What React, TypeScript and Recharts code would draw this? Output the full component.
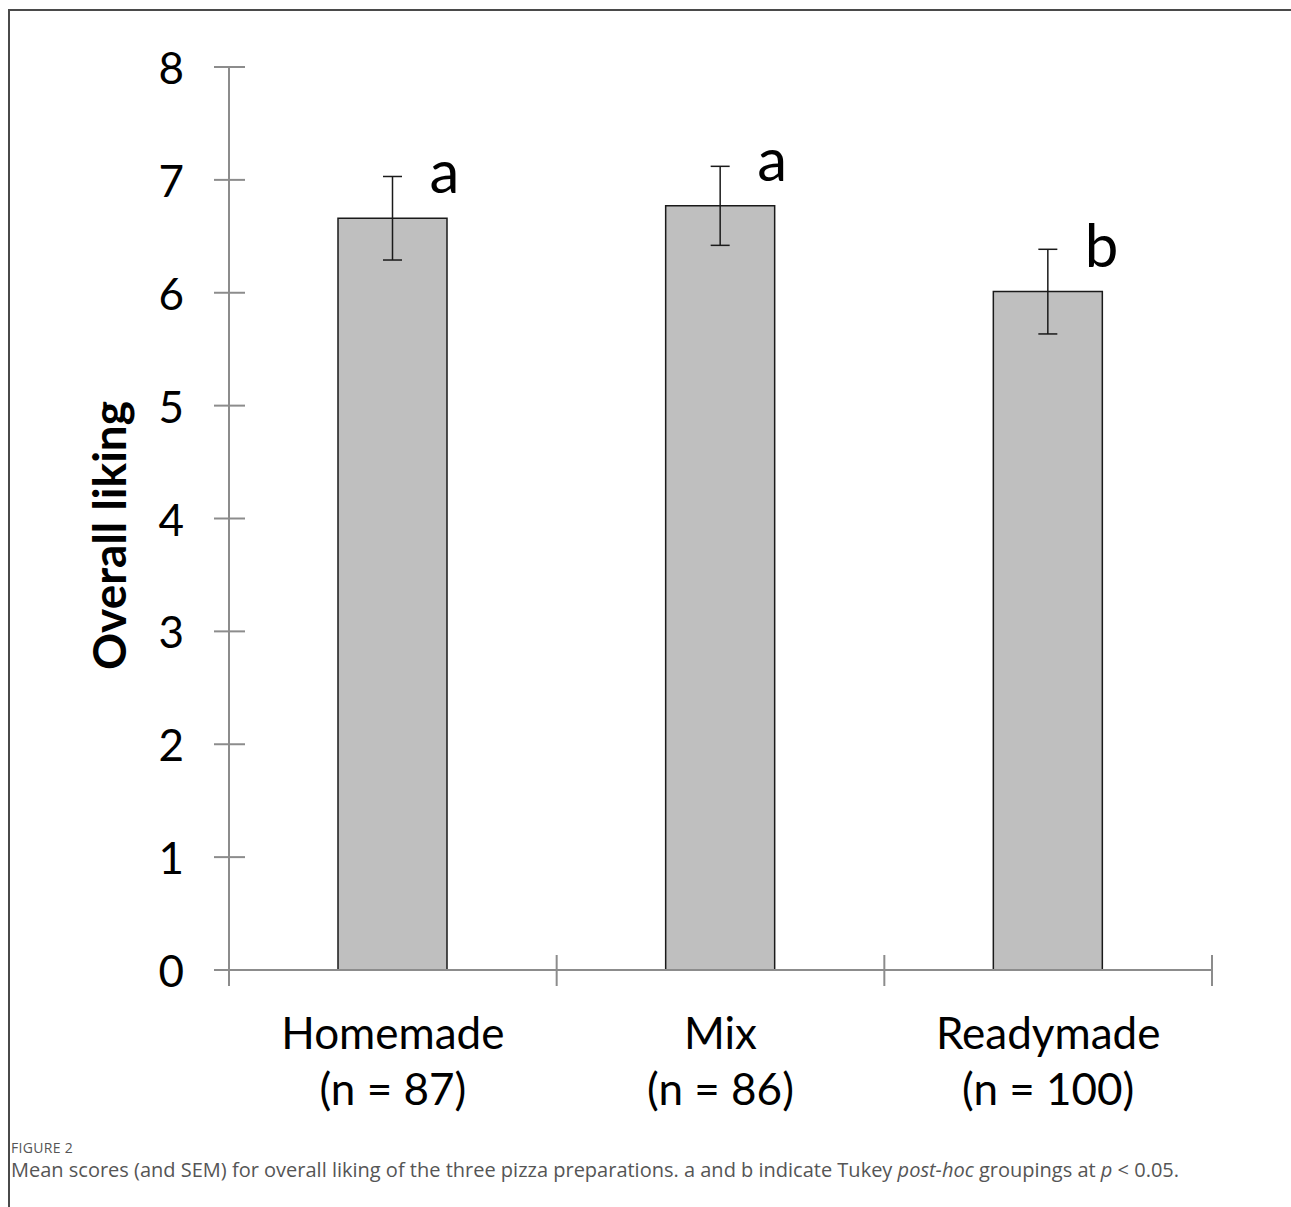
import { Bar, ComposedChart, ErrorBar, LabelList, XAxis, YAxis } from "recharts";

const categories = ["Homemade", "Mix", "Readymade"];
const sampleSizes = [87, 86, 100];
const meanLiking = [6.66, 6.77, 6.01];
const semLiking = [0.37, 0.35, 0.375];
const tukeyGroups = ["a", "a", "b"];
const yTicks = [0, 1, 2, 3, 4, 5, 6, 7, 8];

const rows = categories.map((name, i) => ({
  name,
  n: sampleSizes[i],
  mean: meanLiking[i],
  sem: semLiking[i],
  group: tukeyGroups[i],
}));

const FONT = "Lato, 'Open Sans', sans-serif";
const AXIS = "#8c8c8c";
const Y_TICK_MARGIN = 45;

function YTick(props: any) {
  const { x, y, payload } = props;
  const ax = x + Y_TICK_MARGIN;
  return (
    <g>
      <line x1={ax - 15} x2={ax + 16} y1={y} y2={y} stroke={AXIS} strokeWidth={2} />
      <text x={x} y={y} textAnchor="end" dominantBaseline="central" fontFamily={FONT} fontSize={44} fill="#000">
        {payload.value}
      </text>
    </g>
  );
}

function XTick(props: any) {
  const { x, y, payload, index, visibleTicksCount } = props;
  const half = payload.offset ?? 163.7;
  const row = rows[index];
  const last = index === visibleTicksCount - 1;
  return (
    <g>
      <line x1={x - half} x2={x - half} y1={y - 15} y2={y + 16} stroke={AXIS} strokeWidth={2} />
      {last && <line x1={x + half} x2={x + half} y1={y - 15} y2={y + 16} stroke={AXIS} strokeWidth={2} />}
      <text x={x} y={y + 79} textAnchor="middle" fontFamily={FONT} fontSize={44} fill="#000">
        {payload.value}
      </text>
      <text x={x} y={y + 135} textAnchor="middle" fontFamily={FONT} fontSize={44} fill="#000">
        {`(n = ${row ? row.n : ""})`}
      </text>
    </g>
  );
}

function GroupLetter(props: any) {
  const { x, y, width, value } = props;
  return (
    <text x={x + width / 2 + 37} y={y - 25} fontFamily={FONT} fontSize={60} fill="#000">
      {value}
    </text>
  );
}

export default function App() {
  return (
    <div style={{ position: "relative", width: 1291, height: 1207, overflow: "hidden", background: "#fff" }}>
      <style>{`body{margin:0}`}</style>
      <div
        style={{
          position: "absolute",
          left: 8,
          top: 9,
          width: 1290,
          height: 1200,
          borderTop: "2px solid #4a4a4a",
          borderLeft: "2px solid #4a4a4a",
        }}
      />
      <div style={{ position: "absolute", left: 10, top: 11 }}>
        <ComposedChart width={1270} height={1110} data={rows} margin={{ top: 56, right: 68, left: 0, bottom: 0 }}>
          <XAxis
            dataKey="name"
            height={151}
            axisLine={{ stroke: AXIS, strokeWidth: 2 }}
            tickLine={false}
            tickSize={0}
            tickMargin={0}
            interval={0}
            tick={<XTick />}
          />
          <XAxis xAxisId="top" orientation="top" dataKey="name" height={0} tick={false} tickLine={false} axisLine={{ stroke: "#c0c0c0", strokeWidth: 2 }} />
          <YAxis
            domain={[0, 8]}
            ticks={yTicks}
            width={219}
            axisLine={{ stroke: AXIS, strokeWidth: 2 }}
            tickLine={false}
            tickSize={0}
            tickMargin={Y_TICK_MARGIN}
            interval={0}
            tick={<YTick />}
            label={{
              content: ({ viewBox }: any) => {
                const cx = viewBox.x + 98;
                const cy = viewBox.y + viewBox.height / 2 + 17;
                return (
                  <text
                    x={cx}
                    y={cy}
                    transform={`rotate(-90 ${cx} ${cy})`}
                    textAnchor="middle"
                    dominantBaseline="central"
                    fontFamily={FONT}
                    fontWeight="bold"
                    fontSize={46}
                    fill="#000"
                  >
                    Overall liking
                  </text>
                );
              },
            }}
          />
          <YAxis yAxisId="right" orientation="right" domain={[0, 8]} width={0} tick={false} tickLine={false} axisLine={{ stroke: "#c0c0c0", strokeWidth: 3 }} />
          <Bar dataKey="mean" fill="#bfbfbf" stroke="#1a1a1a" strokeWidth={1.5} barSize={109} isAnimationActive={false}>
            <ErrorBar dataKey="sem" width={9.5} stroke="#1a1a1a" strokeWidth={1.5} isAnimationActive={false} />
            <LabelList dataKey="group" content={<GroupLetter />} />
          </Bar>
        </ComposedChart>
      </div>
      <div
        style={{
          position: "absolute",
          left: 11,
          top: 1139,
          fontFamily: "'Open Sans', sans-serif",
          color: "#555",
        }}
      >
        <div style={{ fontSize: 14, lineHeight: "18px", letterSpacing: 0.3 }}>FIGURE 2</div>
        <div style={{ fontSize: 20, lineHeight: "26px", marginTop: 0 }}>
          Mean scores (and SEM) for overall liking of the three pizza preparations. a and b indicate Tukey <i>post-hoc</i> groupings at <i>p</i> &lt; 0.05.
        </div>
      </div>
    </div>
  );
}
